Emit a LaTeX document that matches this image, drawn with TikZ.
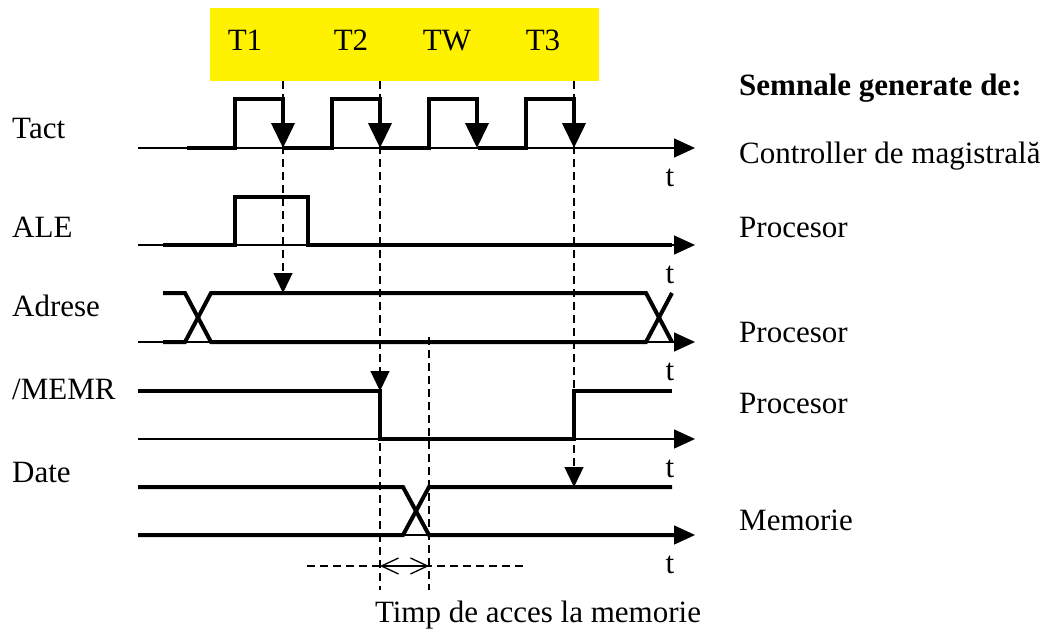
\documentclass[tikz,border=0pt]{standalone}
\usepackage{fontspec}
\setmainfont{Liberation Serif}
\usepackage{tikz}
\usetikzlibrary{arrows.meta,calc,positioning}

\begin{document}
\begin{tikzpicture}[x=1pt,y=-1pt,
  lbl/.style={font=\fontsize{31}{37}\selectfont,inner sep=0pt,anchor=base west},
  sig/.style={line width=4pt},
  axis/.style={line width=1.5pt,-{Triangle[length=21pt,width=19pt]}},
  guide/.style={line width=1.3pt,dash pattern=on 8pt off 5pt},
  tip/.style={-{Triangle[length=20pt,width=19pt]}},
  clk/.style={-{Triangle[length=25pt,width=23pt]}}]
\useasboundingbox (0,0) rectangle (1050,635);
% phases
\fill[yellow] (210,8) rectangle (599,81);
\node[lbl,anchor=base] (p1) at (245,50) {T1};
\node[lbl,anchor=base] (p2) at (351,50) {T2};
\node[lbl,anchor=base] (pw) at (447,50) {TW};
\node[lbl,anchor=base] (p3) at (543,50) {T3};
% signal names
\node[lbl] (tact) at (12,138) {Tact};
\node[lbl] (ale) at (12,237) {ALE};
\node[lbl] (adr) at (12,316) {Adrese};
\node[lbl] (memr) at (12,399) {/MEMR};
\node[lbl] (date) at (12,482) {Date};
% sources
\node[lbl,font=\fontsize{31}{37}\selectfont\bfseries] (src) at (739,95) {Semnale generate de:};
\node[lbl] (bc) at (739,163) {Controller de magistrală};
\node[lbl] (cpu1) at (739,237) {Procesor};
\node[lbl] (cpu2) at (739,342) {Procesor};
\node[lbl] (cpu3) at (739,413) {Procesor};
\node[lbl] (mem) at (739,530) {Memorie};
% time axes
\foreach \y/\n in {148/ta,245/tb,342/tc,439/td,535/te} {
  \coordinate (\n) at (695,\y);
  \draw[axis] (138,\y) -- (\n);
  \node[lbl,anchor=base] at (670,\y+38) {t};
}
% guides
\draw[guide,tip] (283,81) -- (283,293);
\draw[guide,tip] (380,81) -- (380,391);
\draw[guide] (380,391) -- (380,590);
\draw[guide,tip] (574,81) -- (574,487);
\draw[guide] (429,337) -- (429,590);
\draw[guide] (307,566) -- (525,566);
\draw[line width=1.3pt,{Straight Barb[length=17pt,width=16pt]}-{Straight Barb[length=17pt,width=16pt]}] (380,566) -- (429,566);
% Tact
\foreach \i in {0,...,3} {
  \pgfmathsetmacro\r{235+97*\i}
  \draw[sig] (\r-48,148) -- (\r,148) -- (\r,99) -- (\r+48,99);
  \draw[sig,clk] (\r+48,97) -- (\r+48,148);
}
% ALE
\draw[sig] (163,245) -- (235,245) -- (235,197) -- (308,197) -- (308,245) -- (672,245);
% Adrese
\draw[sig] (163,293) -- (185,293) -- (211,342) -- (646,342) -- (672,293);
\draw[sig] (163,342) -- (185,342) -- (211,293) -- (646,293) -- (672,342);
% /MEMR
\draw[sig] (138,391) -- (380,391) -- (380,439) -- (574,439) -- (574,391) -- (672,391);
% Date
\draw[sig] (138,487) -- (403,487) -- (429,535) -- (680,535);
\draw[sig] (138,535) -- (403,535) -- (429,487) -- (672,487);
\node[lbl,anchor=base] (tacc) at (538,622) {Timp de acces la memorie};
\end{tikzpicture}
\end{document}
